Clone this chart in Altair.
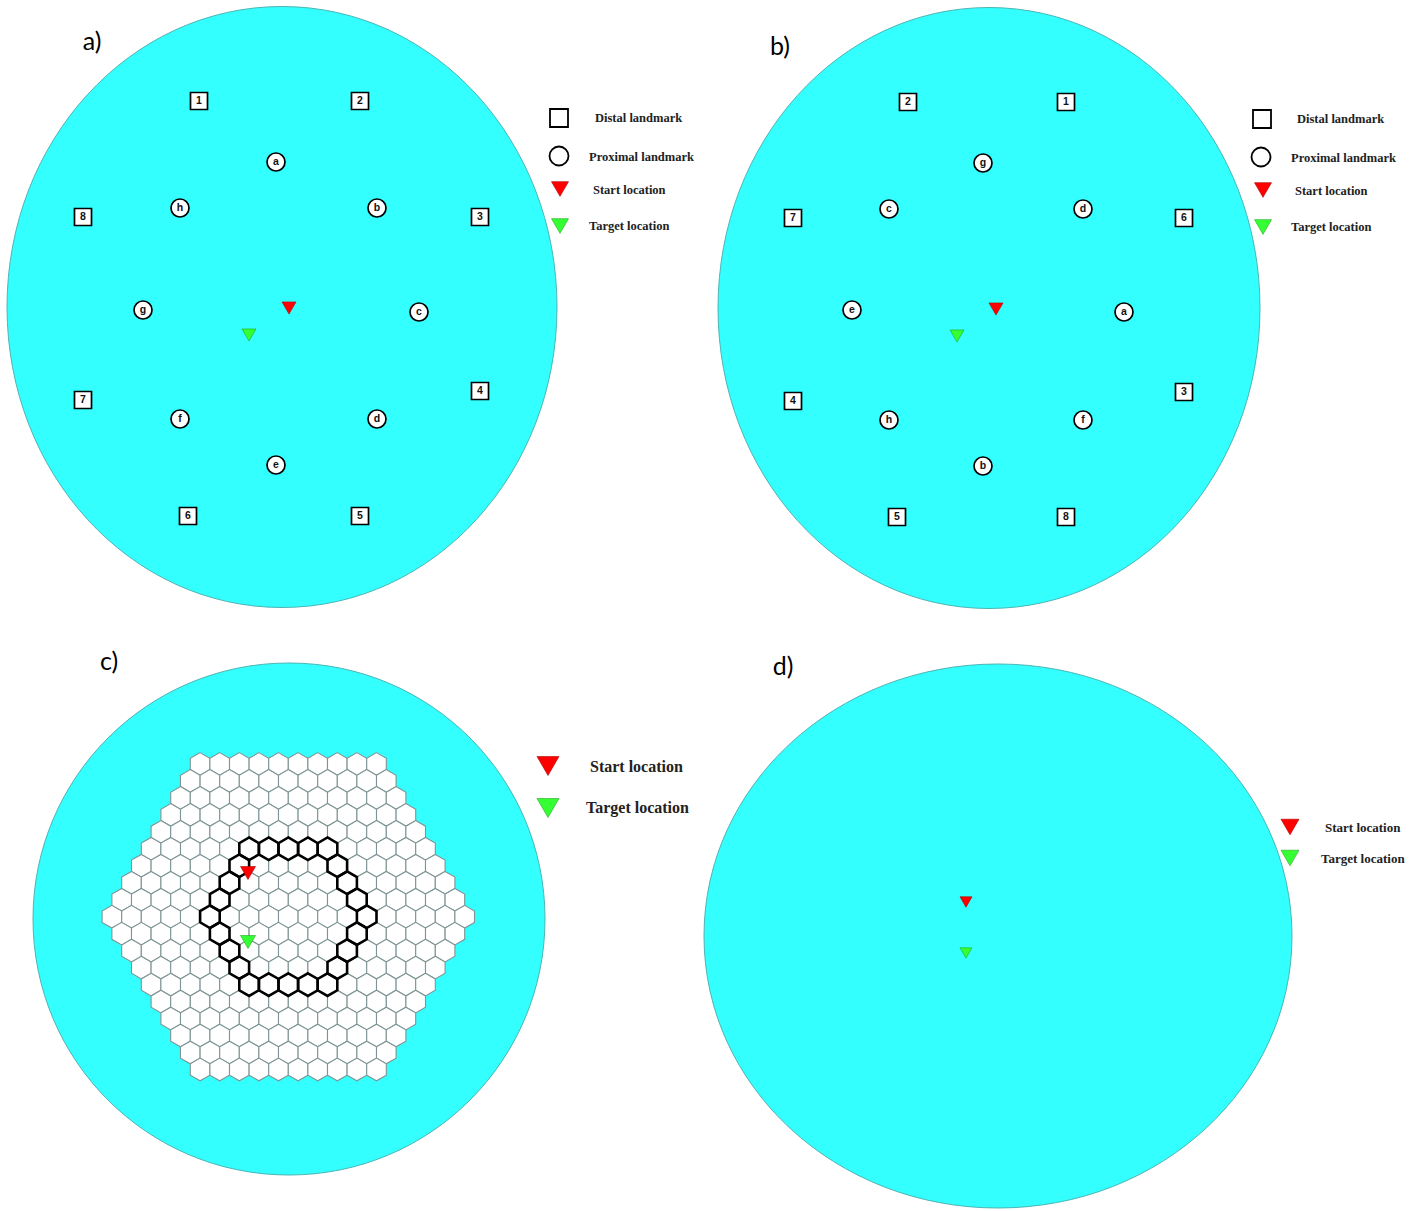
import altair as alt
import pandas as pd

CANVAS_W, CANVAS_H = 1413, 1211
CYAN = "#33FFFF"

# ---------------- arenas (centre, width, height in page pixels) ----------------
arena_panel = ["a", "b", "c", "d"]
arena_cx = [282, 989, 289, 998]
arena_cy = [307, 308, 919, 936]
arena_w = [550, 542, 512, 588]
arena_h = [601, 601, 512, 544]

panel_label = ["a)", "b)", "c)", "d)"]
panel_label_x = [92, 780, 109, 783]
panel_label_y = [42, 47, 662, 667]

# ---------------- landmarks ----------------
a_distal_ids = ["1", "2", "3", "4", "5", "6", "7", "8"]
a_distal_x = [199, 360, 480, 480, 360, 188, 83, 83]
a_distal_y = [101, 101, 217, 391, 516, 516, 400, 217]
a_prox_ids = ["a", "b", "c", "d", "e", "f", "g", "h"]
a_prox_x = [276, 377, 419, 377, 276, 180, 143, 180]
a_prox_y = [162, 208, 312, 419, 465, 419, 310, 208]

b_distal_ids = ["2", "1", "6", "3", "8", "5", "4", "7"]
b_distal_x = [908, 1066, 1184, 1184, 1066, 897, 793, 793]
b_distal_y = [102, 102, 218, 392, 517, 517, 401, 218]
b_prox_ids = ["g", "d", "a", "f", "b", "h", "e", "c"]
b_prox_x = [983, 1083, 1124, 1083, 983, 889, 852, 889]
b_prox_y = [163, 209, 312, 420, 466, 420, 310, 209]

# ---------------- start / target markers ----------------
start_x = [289, 996, 248, 966]
start_y = [308, 309, 873, 902]
start_w = [14, 14, 15, 12]
target_x = [249, 957, 248, 966]
target_y = [335, 336, 942, 953]
target_w = [14, 14, 15, 12]

# ---------------- legends ----------------
leg_box_kind = ["square", "circle", "square", "circle"]
leg_box_x = [559, 559, 1262, 1261]
leg_box_y = [118, 156, 119, 157]
leg_box_w = [18, 19, 18, 19]

leg_tri_color = ["#FF0000", "#33FF33", "#FF0000", "#33FF33", "#FF0000", "#33FF33", "#FF0000", "#33FF33"]
leg_tri_x = [560, 560, 1263, 1263, 548, 548, 1290, 1290]
leg_tri_y = [189, 226, 190, 227, 766, 808, 827, 858]
leg_tri_w = [17, 17, 17, 17, 22, 22, 18, 18]

leg_text = ["Distal landmark", "Proximal landmark", "Start location", "Target location",
            "Distal landmark", "Proximal landmark", "Start location", "Target location",
            "Start location", "Target location",
            "Start location", "Target location"]
leg_text_x = [595, 589, 593, 589, 1297, 1291, 1295, 1291, 590, 586, 1325, 1321]
leg_text_y = [118, 157, 190, 226, 119, 158, 191, 227, 767, 808, 828, 859]
leg_text_size = [12.5, 12.5, 12.5, 12.5, 12.5, 12.5, 12.5, 12.5, 16, 16, 13, 13]

# ---------------- hexagonal maze (panel c) ----------------
hex_center_x, hex_center_y = 288.3, 916.7
hex_cell_w = 19.6
hex_row_index = list(range(-9, 10))
hex_row_counts = [10, 11, 12, 13, 14, 15, 16, 17, 18, 19, 18, 17, 16, 15, 14, 13, 12, 11, 10]
# ring cells as (row, column in half-cell units)
ring_row = [-4, -4, -4, -4, -4, -3, -3, -2, -2, -1, -1, 0, 0, 1, 1, 2, 2, 3, 3, 4, 4, 4, 4, 4]
ring_col2 = [-4, -2, 0, 2, 4, -5, 5, -6, 6, -7, 7, -8, 8, -7, 7, -6, 6, -5, 5, -4, -2, 0, 2, 4]

# ============================================================================
x_scale = alt.Scale(domain=[0, CANVAS_W], range=[0, CANVAS_W], nice=False, zero=False)
y_scale = alt.Scale(domain=[0, CANVAS_H], range=[0, CANVAS_H], nice=False, zero=False)


def X(f):
    return alt.X(f, type="quantitative", scale=x_scale, axis=None)


def Y(f):
    return alt.Y(f, type="quantitative", scale=y_scale, axis=None)


def ellipse_path(w, h):
    m = max(w, h)
    rx, ry = w / m, h / m
    return f"M{-rx:.4f},0 A{rx:.4f},{ry:.4f} 0 1,1 {rx:.4f},0 A{rx:.4f},{ry:.4f} 0 1,1 {-rx:.4f},0 Z"


arena_df = pd.DataFrame({
    "panel": arena_panel,
    "x": arena_cx,
    "y": arena_cy,
    "shape": [ellipse_path(w, h) for w, h in zip(arena_w, arena_h)],
    "size": [max(w, h) ** 2 for w, h in zip(arena_w, arena_h)],
})
arenas = alt.Chart(arena_df).mark_point(
    filled=True, fill=CYAN, stroke="#4cb5b5", strokeWidth=1, opacity=1
).encode(
    x=X("x"), y=Y("y"),
    shape=alt.Shape("shape:N", scale=None, legend=None),
    size=alt.Size("size:Q", scale=None, legend=None),
)

labels_df = pd.DataFrame({"t": panel_label, "x": panel_label_x, "y": panel_label_y})
panel_labels = alt.Chart(labels_df).mark_text(
    font="Lato", fontSize=25, color="black", align="center", baseline="middle"
).encode(x=X("x"), y=Y("y"), text="t:N")

# hex grid
HEX = "M0,-1 L0.866,-0.5 L0.866,0.5 L0,1 L-0.866,0.5 L-0.866,-0.5 Z"
hex_size = (2 * hex_cell_w / 3 ** 0.5) ** 2
hx, hy = [], []
for r, n in zip(hex_row_index, hex_row_counts):
    for j in range(n):
        col2 = 2 * j - (n - 1)
        hx.append(hex_center_x + hex_cell_w * col2 / 2)
        hy.append(hex_center_y + hex_cell_w * 0.866 * r)
hex_df = pd.DataFrame({"x": hx, "y": hy})
hexes = alt.Chart(hex_df).mark_point(
    shape=HEX, size=hex_size, filled=True, fill="white", stroke="#7f9494",
    strokeWidth=1.1, opacity=1
).encode(x=X("x"), y=Y("y"))

ring_df = pd.DataFrame({
    "x": [hex_center_x + hex_cell_w * c / 2 for c in ring_col2],
    "y": [hex_center_y + hex_cell_w * 0.866 * r for r in ring_row],
})
ring = alt.Chart(ring_df).mark_point(
    shape=HEX, size=hex_size, filled=False, stroke="black", strokeWidth=2.6, opacity=1
).encode(x=X("x"), y=Y("y"))

# landmarks
distal_df = pd.DataFrame({
    "id": a_distal_ids + b_distal_ids,
    "x": a_distal_x + b_distal_x,
    "y": a_distal_y + b_distal_y,
})
prox_df = pd.DataFrame({
    "id": a_prox_ids + b_prox_ids,
    "x": a_prox_x + b_prox_x,
    "y": a_prox_y + b_prox_y,
})
distal = alt.Chart(distal_df).mark_point(
    shape="square", size=17 ** 2, filled=True, fill="white", stroke="black",
    strokeWidth=1.7, opacity=1
).encode(x=X("x"), y=Y("y"))
distal_txt = alt.Chart(distal_df).mark_text(
    font="Liberation Sans", fontWeight="bold", fontSize=10.5, color="#111",
    align="center", baseline="middle"
).encode(x=X("x"), y=Y("y"), text="id:N")
prox = alt.Chart(prox_df).mark_point(
    shape="circle", size=18 ** 2, filled=True, fill="white", stroke="black",
    strokeWidth=1.7, opacity=1
).encode(x=X("x"), y=Y("y"))
prox_txt = alt.Chart(prox_df).mark_text(
    font="Liberation Sans", fontWeight="bold", fontSize=10.5, color="#111",
    align="center", baseline="middle"
).encode(x=X("x"), y=Y("y"), text="id:N")

# triangles (markers + legend)
tri_df = pd.DataFrame({
    "x": start_x + target_x + leg_tri_x,
    "y": start_y + target_y + leg_tri_y,
    "fill": ["#FF0000"] * 4 + ["#33FF33"] * 4 + leg_tri_color,
    "size": [w ** 2 for w in start_w + target_w + leg_tri_w],
})
tri_df["edge"] = ["#B00000" if f == "#FF0000" else "#22AA22" for f in tri_df["fill"]]
triangles = alt.Chart(tri_df).mark_point(
    shape="triangle-down", filled=True, opacity=1, strokeWidth=0.6
).encode(
    x=X("x"), y=Y("y"),
    fill=alt.Fill("fill:N", scale=None, legend=None),
    stroke=alt.Stroke("edge:N", scale=None, legend=None),
    size=alt.Size("size:Q", scale=None, legend=None),
)

legbox_df = pd.DataFrame({
    "kind": leg_box_kind, "x": leg_box_x, "y": leg_box_y,
    "size": [w ** 2 for w in leg_box_w],
})
legbox = alt.Chart(legbox_df).mark_point(
    filled=True, fill="white", stroke="black", strokeWidth=1.8, opacity=1
).encode(
    x=X("x"), y=Y("y"),
    shape=alt.Shape("kind:N", scale=None, legend=None),
    size=alt.Size("size:Q", scale=None, legend=None),
)

legtext_df = pd.DataFrame({
    "t": leg_text, "x": leg_text_x, "y": leg_text_y, "fs": leg_text_size,
})
legtext = alt.Chart(legtext_df).mark_text(
    font="Liberation Serif", fontWeight="bold", color="#222",
    align="left", baseline="middle"
).encode(
    x=X("x"), y=Y("y"), text="t:N",
    size=alt.Size("fs:Q", scale=None, legend=None),
)

chart = alt.layer(
    arenas, hexes, ring, distal, distal_txt, prox, prox_txt, triangles,
    legbox, legtext, panel_labels
).properties(
    width=CANVAS_W, height=CANVAS_H,
    autosize=alt.AutoSizeParams(type="none"), padding=0, background="white",
).configure_view(stroke=None)

chart.save("out.html", embed_options={"renderer": "svg", "actions": False})
